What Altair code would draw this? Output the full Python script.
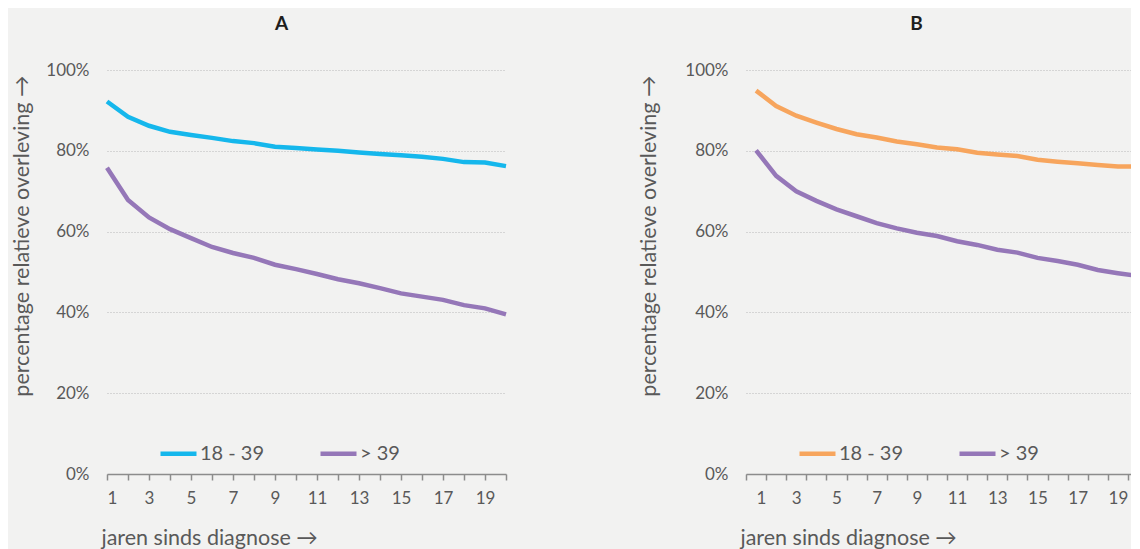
import altair as alt
import pandas as pd

years = list(range(1, 21))
groups = ["18 - 39", "> 39"]

a_young = [92.2, 88.4, 86.2, 84.7, 83.9, 83.2, 82.4, 81.9, 81.0, 80.7,
           80.3, 80.0, 79.6, 79.2, 78.9, 78.5, 78.0, 77.2, 77.1, 76.2]
a_old = [75.8, 67.8, 63.5, 60.6, 58.4, 56.2, 54.7, 53.5, 51.8, 50.7,
         49.5, 48.2, 47.2, 46.0, 44.7, 43.9, 43.1, 41.8, 41.0, 39.5]
b_young = [94.9, 91.1, 88.7, 87.0, 85.4, 84.1, 83.3, 82.3, 81.6, 80.8,
           80.4, 79.5, 79.1, 78.7, 77.8, 77.3, 76.9, 76.5, 76.1, 76.1]
b_old = [80.1, 73.8, 70.0, 67.6, 65.5, 63.8, 62.1, 60.8, 59.7, 58.9,
         57.6, 56.7, 55.5, 54.8, 53.5, 52.7, 51.8, 50.5, 49.7, 49.0]

y_ticks = [0, 20, 40, 60, 80, 100]
b_band_edges = [y - 0.5 for y in years]
colors_a = ["#15b7ec", "#9577b8"]
colors_b = ["#f7a55d", "#9577b8"]

FONT = "Lato"
LABEL_COLOR = "#595959"


def long_df(young, old):
    rows = []
    for i, yr in enumerate(years):
        rows.append({"jaar": yr, "groep": groups[0], "waarde": young[i]})
        rows.append({"jaar": yr, "groep": groups[1], "waarde": old[i]})
    return pd.DataFrame(rows)


def y_enc(title_x):
    return alt.Y(
        "waarde:Q",
        scale=alt.Scale(domain=[0, 100], nice=False),
        axis=alt.Axis(
            values=y_ticks,
            labelExpr="datum.value + '%'",
            title="percentage relatieve overleving →",
            grid=True,
            gridDash=[1, 2],
            gridColor="#b9b9b9",
            gridWidth=1,
            domain=False,
            ticks=False,
            labelPadding=18,
            labelFontSize=17,
            labelColor=LABEL_COLOR,
            labelFont=FONT,
            titleFont=FONT,
            titleFontSize=21.5,
            titleFontWeight="normal",
            titleColor=LABEL_COLOR,
            titleAngle=-90,
            titleX=title_x,
            titleY=5,
            titleAlign="right",
            titleBaseline="middle",
        ),
    )


def x_axis(**extra):
    return alt.Axis(
        labelAngle=0,
        labelFontSize=17,
        labelColor=LABEL_COLOR,
        labelFont=FONT,
        labelPadding=10,
        tickSize=6,
        tickColor="#8c8c8c",
        tickWidth=1.5,
        domainColor="#8c8c8c",
        domainWidth=1.5,
        grid=False,
        title="jaren sinds diagnose →",
        titleFont=FONT,
        titleFontSize=21.5,
        titleFontWeight="normal",
        titleColor=LABEL_COLOR,
        titleX=-6,
        titleY=64,
        titleAlign="left",
        titleBaseline="middle",
        **extra,
    )


def legend():
    return alt.Legend(
        orient="none",
        legendX=51,
        legendY=363,
        direction="horizontal",
        title=None,
        symbolType="stroke",
        symbolSize=1296,
        symbolStrokeWidth=4.5,
        labelFontSize=20,
        labelFont=FONT,
        labelColor=LABEL_COLOR,
        labelOffset=1,
        columnPadding=46,
    )


chart_a = (
    alt.Chart(long_df(a_young, a_old))
    .mark_line(strokeWidth=4.5)
    .encode(
        x=alt.X(
            "jaar:Q",
            scale=alt.Scale(domain=[1, 20], nice=False, zero=False),
            axis=x_axis(
                values=years,
                labelExpr="datum.value % 2 == 1 ? datum.label : ''",
            ),
        ),
        y=y_enc(-85),
        color=alt.Color(
            "groep:N",
            scale=alt.Scale(domain=groups, range=colors_a),
            legend=legend(),
        ),
    )
    .properties(
        width=399,
        height=404,
        title=alt.Title("A", fontSize=19, fontWeight="bold", color="#1e1e1e",
                        font=FONT, anchor="middle", frame="group", dx=-25, offset=27),
    )
)

chart_b = (
    alt.Chart(long_df(b_young, b_old))
    .mark_line(strokeWidth=4.5, clip=True)
    .encode(
        x=alt.X(
            "jaar:Q",
            scale=alt.Scale(domain=[0.5, 19.65], nice=False, zero=False),
            axis=x_axis(
                values=b_band_edges,
                labelExpr="(datum.value + 0.5) % 2 == 1 ? format(datum.value + 0.5, 'd') : ''",
                labelOffset=10,
            ),
        ),
        y=y_enc(-97),
        color=alt.Color(
            "groep:N",
            scale=alt.Scale(domain=groups, range=colors_b),
            legend=legend(),
        ),
    )
    .properties(
        width=385,
        height=404,
        title=alt.Title("B", fontSize=19, fontWeight="bold", color="#1e1e1e",
                        font=FONT, anchor="middle", frame="group", dx=-22, offset=27),
    )
)

chart = (
    alt.hconcat(chart_a, chart_b, spacing=122)
    .resolve_scale(color="independent")
    .properties(padding={"left": 2, "top": 7, "right": 0, "bottom": 0})
    .configure(background="#f2f2f1", font=FONT)
    .configure_view(stroke=None)
)

chart.save("out.html", embed_options={"renderer": "svg", "actions": False})
